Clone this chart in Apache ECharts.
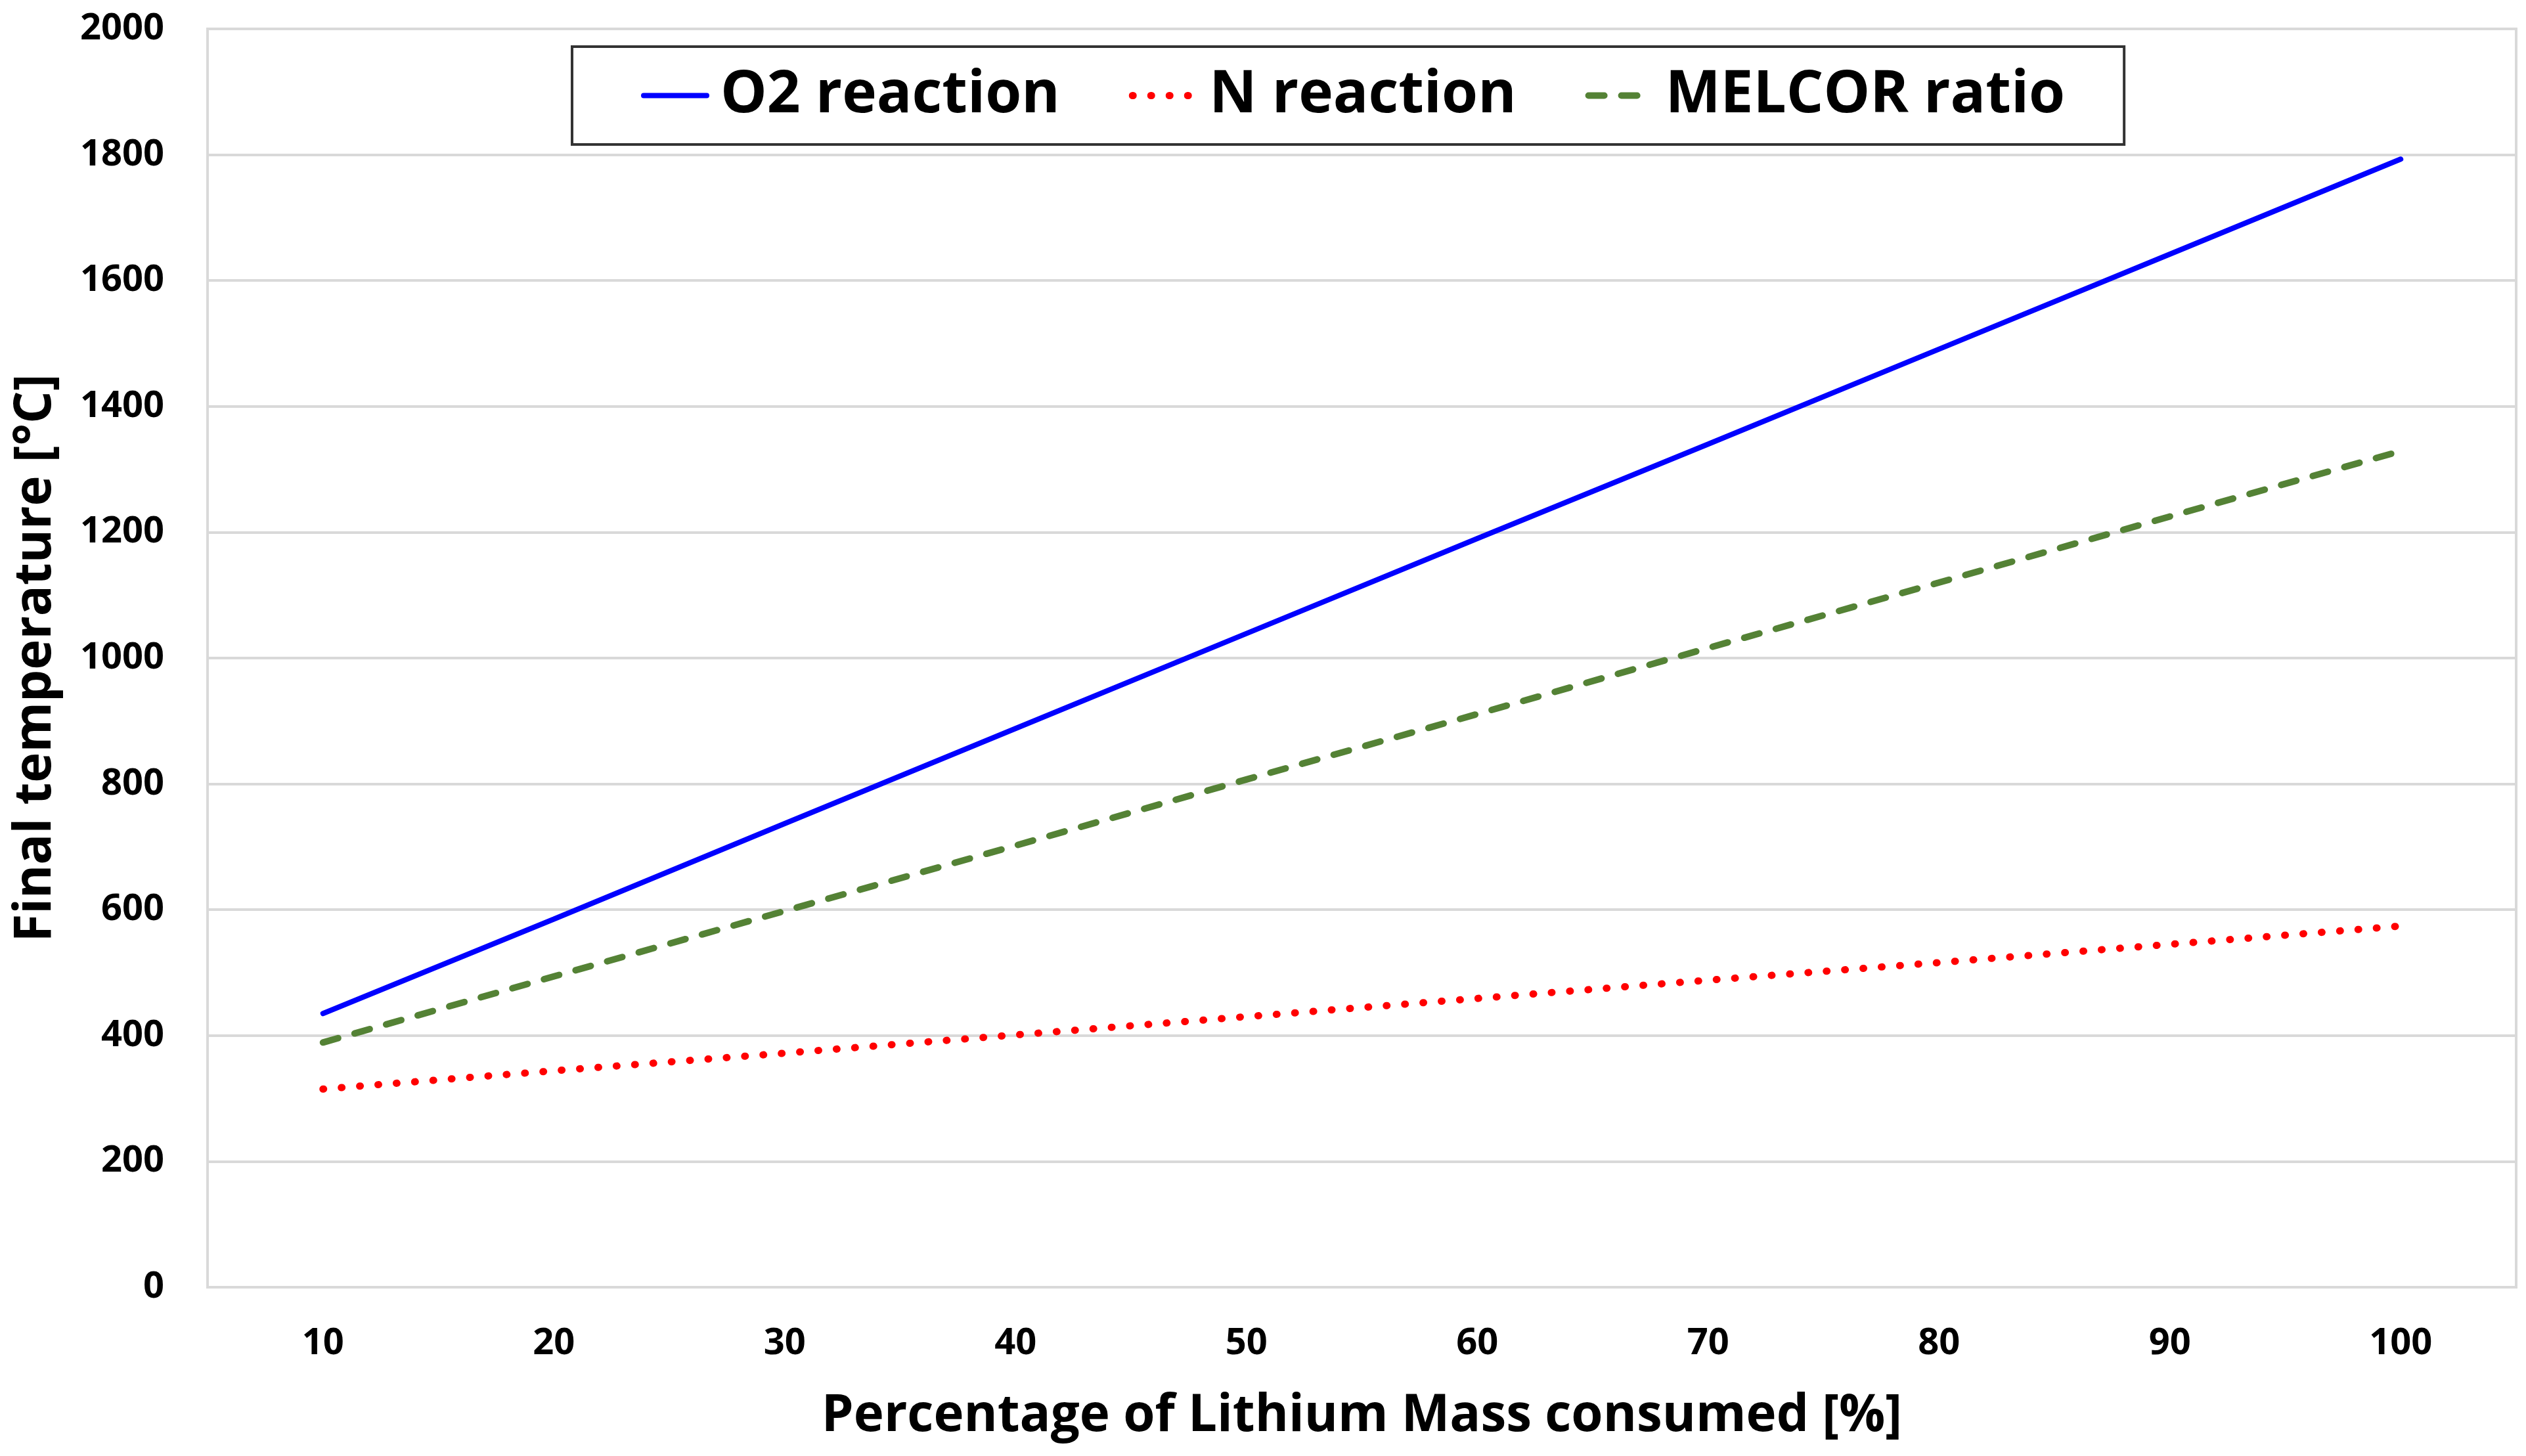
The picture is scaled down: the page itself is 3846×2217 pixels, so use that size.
<!DOCTYPE html>
<html>
<head>
<meta charset="utf-8">
<script src="https://cdn.jsdelivr.net/npm/echarts@6/dist/echarts.min.js"></script>
<style>
html,body{margin:0;padding:0;background:#fff;}
#chart{width:3846px;height:2217px;}
</style>
</head>
<body>
<div id="chart"></div>
<script>
const categories = ['10','20','30','40','50','60','70','80','90','100'];
const o2Reaction = [435, 585, 737, 888, 1039, 1190, 1340, 1491, 1642, 1793];
const nReaction = [315, 344, 372, 401, 430, 459, 488, 516, 545, 574];
const melcorRatio = [389, 494, 598, 702, 807, 911, 1016, 1120, 1225, 1329];
const seriesNames = ['O2 reaction', 'N reaction', 'MELCOR ratio'];
const xTitle = 'Percentage of Lithium Mass consumed [%]';
const yTitle = 'Final temperature [°C]';

const FONT = '"Open Sans", sans-serif';
const chart = echarts.init(document.getElementById('chart'), null, {renderer: 'canvas'});
chart.setOption({
  backgroundColor: '#ffffff',
  animation: false,
  grid: {
    left: 316, right: 15, top: 44, bottom: 257,
    show: true, borderColor: '#d9d9d9', borderWidth: 4, containLabel: false
  },
  legend: {
    data: seriesNames,
    left: 871, top: 71,
    padding: [30, 90, 30, 105],
    borderColor: '#333333', borderWidth: 4,
    itemWidth: 96, itemHeight: 40, itemGap: 105,
    itemStyle: {opacity: 0},
    lineStyle: {width: 'inherit', type: 'inherit', cap: 'round'},
    textStyle: {fontFamily: FONT, fontWeight: 'bold', fontSize: 89, color: '#000', padding: [0, 0, 0, 16]}
  },
  xAxis: {
    type: 'category',
    data: categories,
    boundaryGap: true,
    name: xTitle,
    nameLocation: 'middle',
    nameGap: 158,
    nameTextStyle: {fontFamily: FONT, fontWeight: 'bold', fontSize: 78, color: '#000'},
    axisLine: {show: true, lineStyle: {color: '#d9d9d9', width: 4}},
    axisTick: {show: false},
    axisLabel: {fontFamily: FONT, fontWeight: 'bold', fontSize: 56, color: '#000', margin: 58},
    splitLine: {show: false}
  },
  yAxis: {
    type: 'value',
    min: 0, max: 2000, interval: 200,
    name: yTitle,
    nameLocation: 'middle',
    nameGap: 222,
    nameRotate: 90,
    nameTextStyle: {fontFamily: FONT, fontWeight: 'bold', fontSize: 78, color: '#000'},
    axisLine: {show: true, lineStyle: {color: '#d9d9d9', width: 4}},
    axisTick: {show: false},
    axisLabel: {fontFamily: FONT, fontWeight: 'bold', fontSize: 56, color: '#000', margin: 66,
      formatter: function (v) { return String(v); }},
    splitLine: {show: true, lineStyle: {color: '#d9d9d9', width: 4}}
  },
  series: [
    {
      name: seriesNames[0], type: 'line', data: o2Reaction,
      symbol: 'none', showSymbol: false,
      lineStyle: {color: '#0000ff', width: 8, cap: 'round'},
      itemStyle: {color: '#0000ff'}
    },
    {
      name: seriesNames[1], type: 'line', data: nReaction,
      symbol: 'none', showSymbol: false,
      lineStyle: {color: '#ff0000', width: 11, type: [1, 27], cap: 'round'},
      itemStyle: {color: '#ff0000'}
    },
    {
      name: seriesNames[2], type: 'line', data: melcorRatio,
      symbol: 'none', showSymbol: false,
      lineStyle: {color: '#548235', width: 10, type: [24, 26], cap: 'round'},
      itemStyle: {color: '#548235'}
    }
  ]
});
</script>
</body>
</html>
